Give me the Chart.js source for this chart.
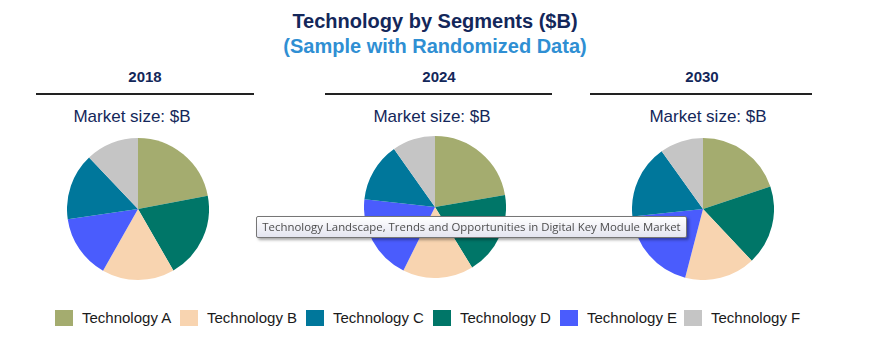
<!DOCTYPE html>
<html>
<head>
<meta charset="utf-8">
<script src="https://cdn.jsdelivr.net/npm/chart.js@4.4.1/dist/chart.umd.min.js"></script>
<style>
  html, body { margin: 0; padding: 0; background: #fff; }
  body { width: 885px; height: 353px; position: relative; overflow: hidden; font-family: "Liberation Sans", Arial, sans-serif; }
  .titulo { position: absolute; left: 0; width: 870px; text-align: center; font-weight: bold; font-size: 20px; }
  #t1 { top: 10px; color: #13275a; }
  #t2 { top: 35px; color: #2f8fd3; }
  .ano { position: absolute; font-weight: bold; font-size: 15px; color: #13275a; text-align: center; }
  .linha { position: absolute; height: 2px; background: #222; }
  .mercado { position: absolute; font-size: 17px; color: #13275a; text-align: center; width: 200px; }
  canvas.pizza { position: absolute; }
  #legenda { position: absolute; left: 0; top: 309px; }
  .item { position: absolute; top: 0; white-space: nowrap; font-size: 15px; color: #1a1a1a; }
  .item span.caixa { position: absolute; left: 0; top: 1px; width: 18px; height: 16px; }
  .item span.txt { position: absolute; left: 27px; top: 0; }
  #dica {
    position: absolute; left: 256px; top: 216px; width: 429px; height: 20px;
    border: 1px solid #767676; border-radius: 2px;
    background: linear-gradient(#ffffff, #e4e5f0);
    box-shadow: 2px 2px 3px rgba(0,0,0,0.35);
    font-family: "Open Sans", "Noto Sans", sans-serif; font-size: 11.4px; color: #4d4d4d;
    line-height: 20px; text-align: center; white-space: nowrap;
  }
</style>
</head>
<body>
<div class="titulo" id="t1">Technology by Segments ($B)</div>
<div class="titulo" id="t2">(Sample with Randomized Data)</div>
<div id="paineis"></div>
<div id="legenda"></div>
<div id="dica">Technology Landscape, Trends and Opportunities in Digital Key Module Market</div>

<script>
const categorias = ["Technology A", "Technology B", "Technology C", "Technology D", "Technology E", "Technology F"];
const cores = ["#a4ac6f", "#f8d4b0", "#00779b", "#007668", "#4a5cfd", "#c5c5c5"];
const anos = ["2018", "2024", "2030"];

// valores por categoria (A..F)
const valores2018 = [22.0, 16.5, 15.2, 19.7, 14.5, 12.1];
const valores2024 = [22.3, 16.1, 13.5, 19.0, 19.4, 9.8];
const valores2030 = [19.9, 16.1, 16.8, 18.1, 19.3, 9.9];

// ordem das fatias no sentido horário a partir do topo
const ordemFatias = [0, 3, 1, 4, 2, 5];

const valoresPorAno = [valores2018, valores2024, valores2030];

// layout dos paineis
const paineis = [
  { cx: 138, cy: 209, anoX: 145, linha: [36, 254], linhaY: 93, mercadoX: 132 },
  { cx: 435, cy: 207, anoX: 439, linha: [325, 552], linhaY: 93, mercadoX: 432 },
  { cx: 703, cy: 209, anoX: 702, linha: [590, 812], linhaY: 93, mercadoX: 708 }
];
const raio = 71;

const cont = document.getElementById('paineis');
const graficos = [];

anos.forEach((ano, i) => {
  const p = paineis[i];

  const lab = document.createElement('div');
  lab.className = 'ano';
  lab.textContent = ano;
  lab.style.left = (p.anoX - 50) + 'px';
  lab.style.width = '100px';
  lab.style.top = '68px';
  cont.appendChild(lab);

  const ln = document.createElement('div');
  ln.className = 'linha';
  ln.style.left = p.linha[0] + 'px';
  ln.style.width = (p.linha[1] - p.linha[0]) + 'px';
  ln.style.top = p.linhaY + 'px';
  cont.appendChild(ln);

  const ms = document.createElement('div');
  ms.className = 'mercado';
  ms.textContent = 'Market size: $B';
  ms.style.left = (p.mercadoX - 100) + 'px';
  ms.style.top = '107px';
  cont.appendChild(ms);

  const cv = document.createElement('canvas');
  cv.className = 'pizza';
  cv.width = raio * 2;
  cv.height = raio * 2;
  cv.style.left = (p.cx - raio) + 'px';
  cv.style.top = (p.cy - raio) + 'px';
  cont.appendChild(cv);

  const vals = valoresPorAno[i];
  graficos.push(new Chart(cv, {
    type: 'pie',
    data: {
      labels: ordemFatias.map(k => categorias[k]),
      datasets: [{
        data: ordemFatias.map(k => vals[k]),
        backgroundColor: ordemFatias.map(k => cores[k]),
        borderWidth: 0
      }]
    },
    options: {
      responsive: false,
      animation: false,
      layout: { padding: 0 },
      plugins: { legend: { display: false }, tooltip: { enabled: false } }
    }
  }));
});

// legenda
const legendaX = [55, 180, 306, 433, 560, 684];
const leg = document.getElementById('legenda');
categorias.forEach((c, i) => {
  const it = document.createElement('div');
  it.className = 'item';
  it.style.left = legendaX[i] + 'px';
  const cx = document.createElement('span');
  cx.className = 'caixa';
  cx.style.background = cores[i];
  const tx = document.createElement('span');
  tx.className = 'txt';
  tx.textContent = c;
  it.appendChild(cx);
  it.appendChild(tx);
  leg.appendChild(it);
});
</script>
</body>
</html>
